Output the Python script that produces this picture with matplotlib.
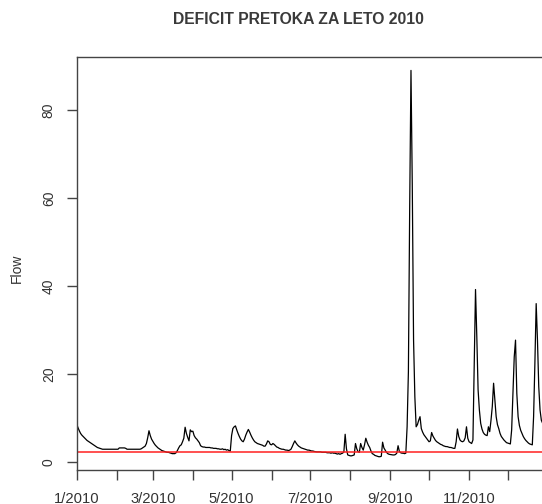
import numpy as np
import pandas as pd
import matplotlib
matplotlib.use('Agg')
import matplotlib.pyplot as plt
import matplotlib.dates as mdates

plt.rcParams['font.family'] = ['Liberation Sans', 'DejaVu Sans']

# daily flow
jan = [8.6, 7.8, 7.1, 6.5, 6.1, 5.8, 5.5, 5.2, 4.9, 4.7, 4.5, 4.3, 4.1, 3.9, 3.7, 3.5,
       3.3, 3.2, 3.1, 3.0, 2.9, 2.9, 2.9, 2.9, 2.9, 2.9, 2.9, 2.9, 2.9, 2.9, 2.9]
feb = [2.9, 2.9, 3.2, 3.2, 3.2, 3.2, 3.2, 3.1, 2.9, 2.9, 2.9, 2.9, 2.9, 2.9, 2.9, 2.9,
       2.9, 2.9, 2.9, 3.0, 3.2, 3.4, 3.6, 4.2, 5.5, 7.1, 6.0, 5.2]
mar = [4.7, 4.2, 3.8, 3.5, 3.2, 3.0, 2.8, 2.6, 2.5, 2.4, 2.3, 2.2, 2.2, 2.1, 2.0, 1.9,
       1.9, 1.9, 2.1, 2.6, 3.2, 3.7, 3.9, 4.6, 5.4, 7.9, 6.5, 5.6, 4.8, 7.3, 6.9]
apr = [7.0, 6.0, 5.5, 5.2, 4.8, 4.4, 3.7, 3.5, 3.4, 3.4, 3.3, 3.3, 3.3, 3.3, 3.2, 3.2,
       3.1, 3.1, 3.1, 3.0, 3.0, 2.9, 2.9, 3.0, 2.8, 2.9, 2.7, 2.8, 2.6, 2.5]
may = [6.0, 7.6, 8.0, 8.2, 7.3, 6.5, 5.8, 5.2, 4.8, 4.6, 5.2, 6.1, 6.8, 7.4, 6.8, 6.1,
       5.5, 5.0, 4.6, 4.4, 4.2, 4.1, 4.0, 3.9, 3.8, 3.6, 3.6, 4.1, 4.8, 4.6, 4.0]
jun = [3.9, 4.2, 4.0, 3.7, 3.4, 3.3, 3.1, 3.0, 2.9, 2.9, 2.8, 2.7, 2.7, 2.6, 2.7, 2.9,
       3.5, 4.2, 4.8, 4.3, 3.9, 3.6, 3.4, 3.2, 3.1, 3.0, 2.9, 2.8, 2.7, 2.7]
jul = [2.6, 2.5, 2.5, 2.4, 2.35, 2.3, 2.3, 2.3, 2.3, 2.2, 2.2, 2.2, 2.2, 2.1, 2.1, 2.1,
       2.0, 2.1, 2.0, 2.0, 1.9, 1.8, 1.9, 1.75, 1.9, 2.0, 2.3, 6.3, 3.0, 1.6, 1.5]
aug = [1.4, 1.4, 1.5, 1.6, 4.2, 3.0, 2.35, 2.2, 4.2, 3.3, 2.7, 3.9, 5.4, 4.5, 3.8, 3.3,
       2.5, 1.9, 1.75, 1.5, 1.4, 1.3, 1.2, 1.2, 1.3, 4.5, 3.2, 2.7, 2.2, 1.9, 1.75]
sep = [1.7, 1.65, 1.6, 1.6, 1.7, 2.0, 3.7, 2.4, 2.1, 2.0, 2.0, 1.9, 2.0, 8.0, 20.5, 58,
       89, 63, 27.7, 14.8, 8.0, 8.5, 9.5, 10.3, 7.6, 6.8, 6.2, 5.8, 5.4, 5.0]
oct_ = [4.6, 4.8, 6.7, 5.9, 5.4, 4.9, 4.6, 4.4, 4.2, 4.0, 3.9, 3.7, 3.6, 3.5, 3.5, 3.4,
        3.3, 3.3, 3.2, 3.1, 3.1, 4.6, 7.5, 5.8, 5.0, 4.7, 4.6, 4.8, 5.5, 8.0, 5.4]
nov = [4.6, 4.4, 4.2, 5.0, 22, 39.2, 28.5, 16.4, 11.8, 8.8, 7.5, 6.7, 6.3, 6.1, 6.0, 8.0,
       6.9, 9.5, 12.6, 17.9, 14.1, 10.3, 8.5, 7.6, 6.5, 5.8, 5.4, 5.0, 4.7, 4.4]
dec = [4.3, 4.2, 4.1, 7.3, 15.6, 23.9, 27.7, 15.6, 10.3, 8.3, 7.2, 6.5, 5.8, 5.3, 4.9, 4.6,
       4.3, 4.1, 4.0, 3.9, 10.3, 22.4, 36, 27.7, 17.1, 11.8, 9.5, 8.8, 7.8, 7.0, 6.4]

flow = jan + feb + mar + apr + may + jun + jul + aug + sep + oct_ + nov + dec
dates = pd.date_range('2010-01-01', periods=len(flow), freq='D')
threshold = 2.3

W, H = 542, 504
fig = plt.figure(figsize=(W / 100, H / 100), dpi=100)
ax = fig.add_axes([76.7 / W, 34 / H, (546.5 - 76.7) / W, (470 - 57) / H])

ax.plot(dates, flow, color='black', lw=0.9)
ax.axhline(threshold, color='#ff2020', lw=1.1)

ax.set_xlim(dates[0], dates[-1])
ax.set_ylim(-1.82, 92.05)
ax.set_yticks([0, 20, 40, 60, 80])

ax.xaxis.set_major_locator(mdates.MonthLocator())
ax.xaxis.set_major_formatter(plt.FuncFormatter(
    lambda v, pos: (lambda d: f'{d.month}/{d.year}' if d.month % 2 == 1 else '')(mdates.num2date(v))))

for s in ax.spines.values():
    s.set_color('#444444')
    s.set_linewidth(1.0)
ax.tick_params(axis='both', direction='out', length=7, width=1.0, color='#444444',
               labelcolor='#333333')
ax.tick_params(axis='x', labelsize=10.6, pad=8.5)
ax.tick_params(axis='y', labelsize=10, pad=8)
for lab in ax.get_yticklabels():
    lab.set_rotation(90)
    lab.set_va('center')

fig.text(17 / W, 1 - 268 / H, 'Flow', rotation=90, ha='center', va='center',
         fontsize=10, color='#333333')
fig.text(298.5 / W, 1 - 20 / H, 'DEFICIT PRETOKA ZA LETO 2010', ha='center', va='center',
         fontsize=11.3, fontweight='bold', color='#3a3a3a')

fig.savefig('out.png', dpi=100)
